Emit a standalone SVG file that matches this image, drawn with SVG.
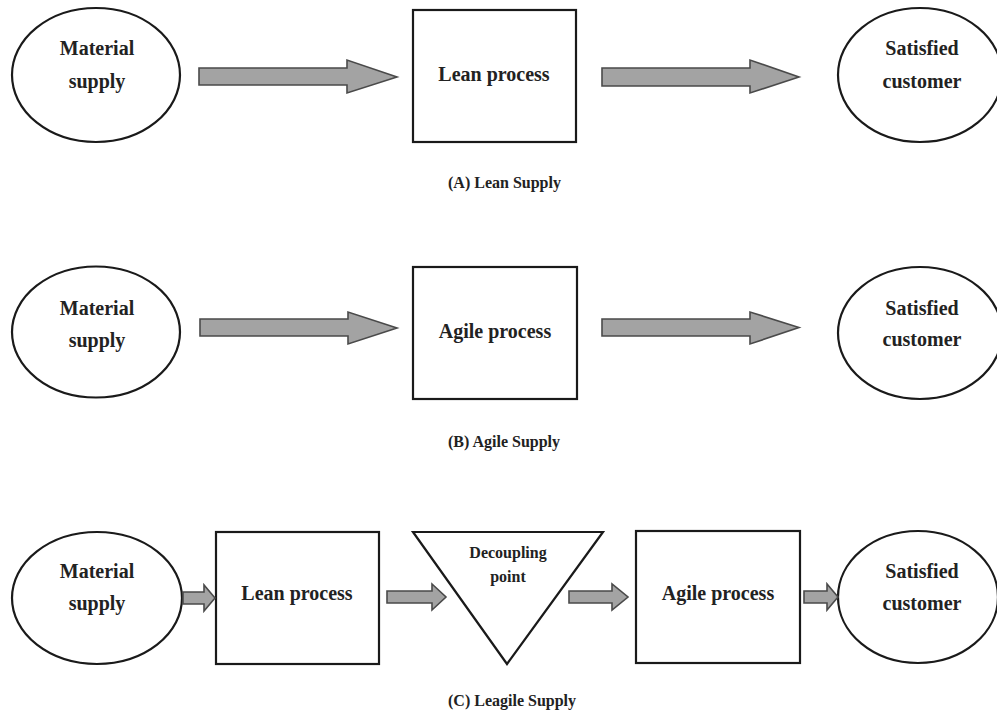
<svg xmlns="http://www.w3.org/2000/svg" width="997" height="713" viewBox="0 0 997 713">
  <style>
    .node { fill: #ffffff; stroke: #1a1a1a; stroke-width: 2.2; }
    .arrow { fill: #a3a3a3; stroke: #4a4a4a; stroke-width: 1.6; stroke-linejoin: miter; }
    .label { font-family: "Liberation Serif", "Times New Roman", serif; font-weight: bold; font-size: 20px; fill: #222222; text-anchor: middle; }
    .small { font-size: 16px; }
    .caption { font-family: "Liberation Serif", "Times New Roman", serif; font-weight: bold; font-size: 16px; fill: #222222; }
  </style>
  <rect x="0" y="0" width="997" height="713" fill="#ffffff"/>

  <!-- (A) Lean supply -->
  <g id="a-material">
    <ellipse class="node" cx="96" cy="75" rx="84" ry="67"/>
    <text class="label" x="97" y="55">Material</text>
    <text class="label" x="97" y="88">supply</text>
  </g>
  <g id="a-lean">
    <rect class="node" x="413" y="10" width="163" height="132"/>
    <text class="label" x="494" y="81">Lean process</text>
  </g>
  <g id="a-customer">
    <ellipse class="node" cx="920" cy="75" rx="82" ry="67"/>
    <text class="label" x="922" y="55">Satisfied</text>
    <text class="label" x="922" y="88">customer</text>
  </g>
  <text class="caption" x="448" y="188">(A) Lean Supply</text>

  <!-- (B) Agile supply -->
  <g id="b-material">
    <ellipse class="node" cx="96" cy="332" rx="84" ry="65.5"/>
    <text class="label" x="97" y="315">Material</text>
    <text class="label" x="97" y="347">supply</text>
  </g>
  <g id="b-agile">
    <rect class="node" x="413" y="267" width="164" height="132"/>
    <text class="label" x="495" y="338">Agile process</text>
  </g>
  <g id="b-customer">
    <ellipse class="node" cx="920" cy="333" rx="82" ry="66"/>
    <text class="label" x="922" y="315">Satisfied</text>
    <text class="label" x="922" y="346">customer</text>
  </g>
  <text class="caption" x="448" y="447">(B) Agile Supply</text>

  <!-- (C) Leagile supply -->
  <g id="c-material">
    <ellipse class="node" cx="97" cy="598" rx="85" ry="66"/>
    <text class="label" x="97" y="578">Material</text>
    <text class="label" x="97" y="610">supply</text>
  </g>
  <g id="c-lean">
    <rect class="node" x="216" y="532" width="163" height="132"/>
    <text class="label" x="297" y="600">Lean process</text>
  </g>
  <g id="c-decoupling">
    <polygon class="node" points="413,532 603,532 507,664"/>
    <text class="label small" x="508" y="558">Decoupling</text>
    <text class="label small" x="508" y="582">point</text>
  </g>
  <g id="c-agile">
    <rect class="node" x="636" y="531" width="164" height="132"/>
    <text class="label" x="718" y="600">Agile process</text>
  </g>
  <g id="c-customer">
    <ellipse class="node" cx="918" cy="597" rx="80" ry="66"/>
    <text class="label" x="922" y="578">Satisfied</text>
    <text class="label" x="922" y="610">customer</text>
  </g>
  <text class="caption" x="448" y="706">(C) Leagile Supply</text>

  <!-- block arrows -->
  <g id="connectors">
    <polygon class="arrow" points="199,68 347,68 347,60 397,77 347,93 347,85 199,85"/>
    <polygon class="arrow" points="602,68 750,68 750,60 799,77 750,93 750,86 602,86"/>
    <polygon class="arrow" points="200,319 348,319 348,312 397,328 348,344 348,336 200,336"/>
    <polygon class="arrow" points="602,319 750,319 750,312 799,327.5 750,344 750,336 602,336"/>
    <polygon class="arrow" points="183,592 204,592 204,585 215,598 204,611 204,604 183,604"/>
    <polygon class="arrow" points="387,591 432,591 432,584 446,597 432,610 432,603 387,603"/>
    <polygon class="arrow" points="569,591 612,591 612,584 628,597 612,610 612,603 569,603"/>
    <polygon class="arrow" points="804,591 827,591 827,584 838,597 827,610 827,603 804,603"/>
  </g>
</svg>
